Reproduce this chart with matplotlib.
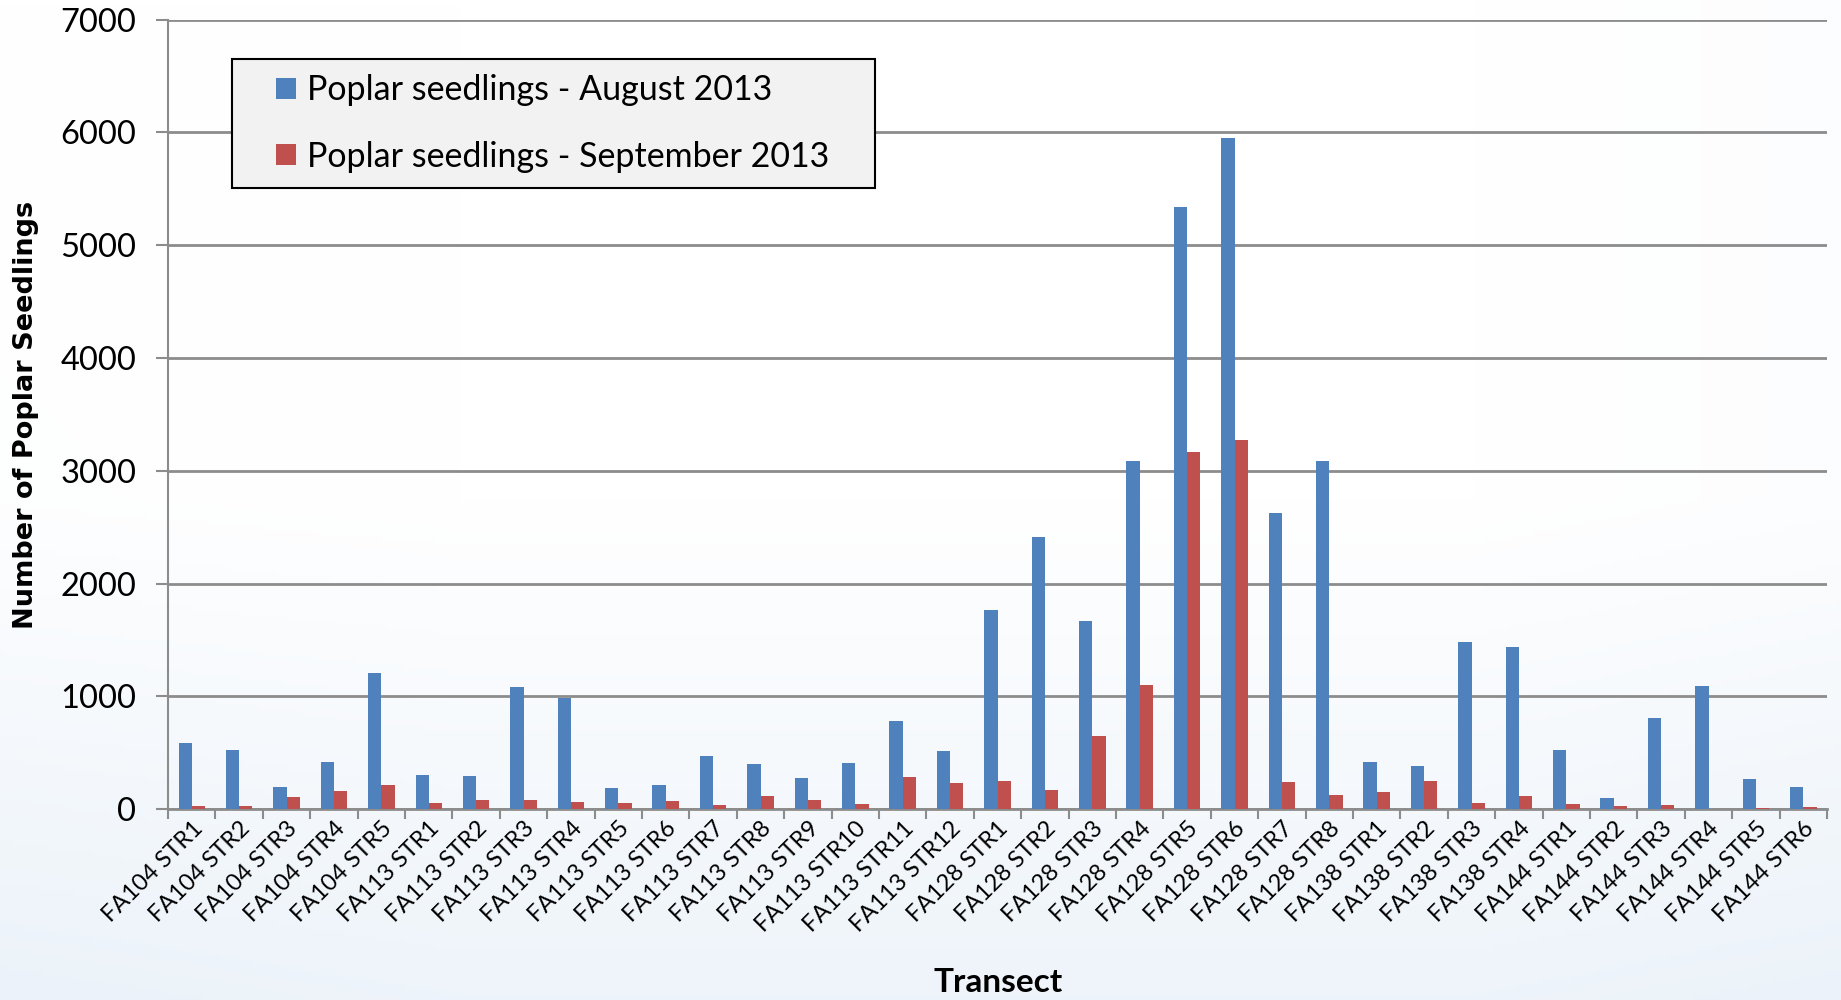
import numpy as np
import matplotlib.pyplot as plt
from matplotlib.patches import Rectangle

# transects and seedling counts
transects = ['FA104 STR1', 'FA104 STR2', 'FA104 STR3', 'FA104 STR4', 'FA104 STR5',
             'FA113 STR1', 'FA113 STR2', 'FA113 STR3', 'FA113 STR4', 'FA113 STR5',
             'FA113 STR6', 'FA113 STR7', 'FA113 STR8', 'FA113 STR9', 'FA113 STR10',
             'FA113 STR11', 'FA113 STR12',
             'FA128 STR1', 'FA128 STR2', 'FA128 STR3', 'FA128 STR4', 'FA128 STR5',
             'FA128 STR6', 'FA128 STR7', 'FA128 STR8',
             'FA138 STR1', 'FA138 STR2', 'FA138 STR3', 'FA138 STR4',
             'FA144 STR1', 'FA144 STR2', 'FA144 STR3', 'FA144 STR4', 'FA144 STR5', 'FA144 STR6']

august = [590, 530, 195, 420, 1210,
          305, 293, 1083, 990, 189, 216, 470, 402, 281, 408, 784, 518,
          1769, 2417, 1672, 3085, 5340, 5950, 2624, 3085,
          420, 385, 1482, 1438,
          524, 101, 808, 1092, 269, 195]

september = [30, 33, 107, 163, 216,
             53, 83, 80, 65, 56, 74, 38, 121, 83, 50, 284, 237,
             251, 175, 651, 1104, 3165, 3274, 243, 130,
             151, 251, 53, 118,
             47, 30, 38, 0, 15, 18]

yticks = [0, 1000, 2000, 3000, 4000, 5000, 6000, 7000]

fig = plt.figure(figsize=(18.41, 10), dpi=100)

# soft background gradient like the slide
bg = fig.add_axes([0, 0, 1, 1], zorder=-10)
yy = np.linspace(0, 1, 200)[:, None]
xx = np.linspace(0, 1, 300)[None, :]
shade = np.clip((yy - 0.5) * 1.6, 0, 1) * 0.6 + np.clip(0.25 - xx, 0, 1) * 0.3 * yy + np.clip(xx - 0.8, 0, 1) * 0.35
shade = np.clip(shade, 0, 1)
top = np.array([1.0, 1.0, 1.0])
low = np.array([0.86, 0.91, 0.96])
img = top + (low - top) * shade[:, :, None]
bg.imshow(img, aspect='auto', extent=[0, 1, 0, 1], origin='upper')
bg.axis('off')

ax = fig.add_axes([0.0913, 0.1907, 0.9011, 0.7898])
ax.patch.set_alpha(0)

x = np.arange(len(transects))
w = 0.28
ax.bar(x - w / 2, august, w, color='#4f81bd', label='Poplar seedlings - August 2013', zorder=3)
ax.bar(x + w / 2, september, w, color='#c0504d', label='Poplar seedlings - September 2013', zorder=3)

ax.set_xlim(-0.5, len(transects) - 0.5)
ax.set_ylim(0, 7000)
ax.set_yticks(yticks)
ax.set_yticklabels([str(v) for v in yticks], fontsize=23.5, fontfamily='Lato')
ax.tick_params(axis='y', length=9, width=1.5, color='#8c8c8c', pad=14)
ax.yaxis.grid(True, color='#8c8c8c', linewidth=2, zorder=0)

# category labels at centres, tick marks at boundaries
ax.set_xticks(x)
ax.set_xticklabels(transects, rotation=45, ha='right', rotation_mode='anchor',
                   fontsize=17, fontfamily='Lato')
ax.tick_params(axis='x', length=0, pad=6)
ax.set_xticks(np.arange(len(transects) + 1) - 0.5, minor=True)
ax.tick_params(axis='x', which='minor', length=7, width=1.5, color='#8c8c8c')

for side in ['top', 'right']:
    ax.spines[side].set_visible(False)
ax.spines['left'].set_color('#8c8c8c')
ax.spines['left'].set_linewidth(1.5)
ax.spines['bottom'].set_color('#8c8c8c')
ax.spines['bottom'].set_linewidth(2)

fig.text(0.014, 0.585, 'Number of Poplar Seedlings', rotation=90, ha='center', va='center',
         fontsize=19.5, fontweight='bold', fontfamily='DejaVu Sans')
fig.text(0.542, 0.018, 'Transect', ha='center', va='center',
         fontsize=24, fontweight='bold', fontfamily='Lato')

# legend box drawn separately so its padding matches the original
box = Rectangle((232 / 1841, 1 - 188 / 1000), (875 - 232) / 1841, (188 - 59) / 1000,
                transform=fig.transFigure, facecolor='#f2f2f2', edgecolor='black',
                linewidth=1.5, zorder=5)
fig.patches.append(box)
handles, labels = ax.get_legend_handles_labels()
leg = fig.legend(handles, labels, loc='center left', bbox_to_anchor=(276 / 1841, 1 - 123.5 / 1000),
                 prop={'family': 'Lato', 'size': 24.5}, frameon=False,
                 handlelength=0.6, handleheight=0.55, handletextpad=0.3,
                 labelspacing=1.0, borderpad=0, borderaxespad=0)
leg.set_zorder(6)

fig.savefig('out.png', dpi=100)
